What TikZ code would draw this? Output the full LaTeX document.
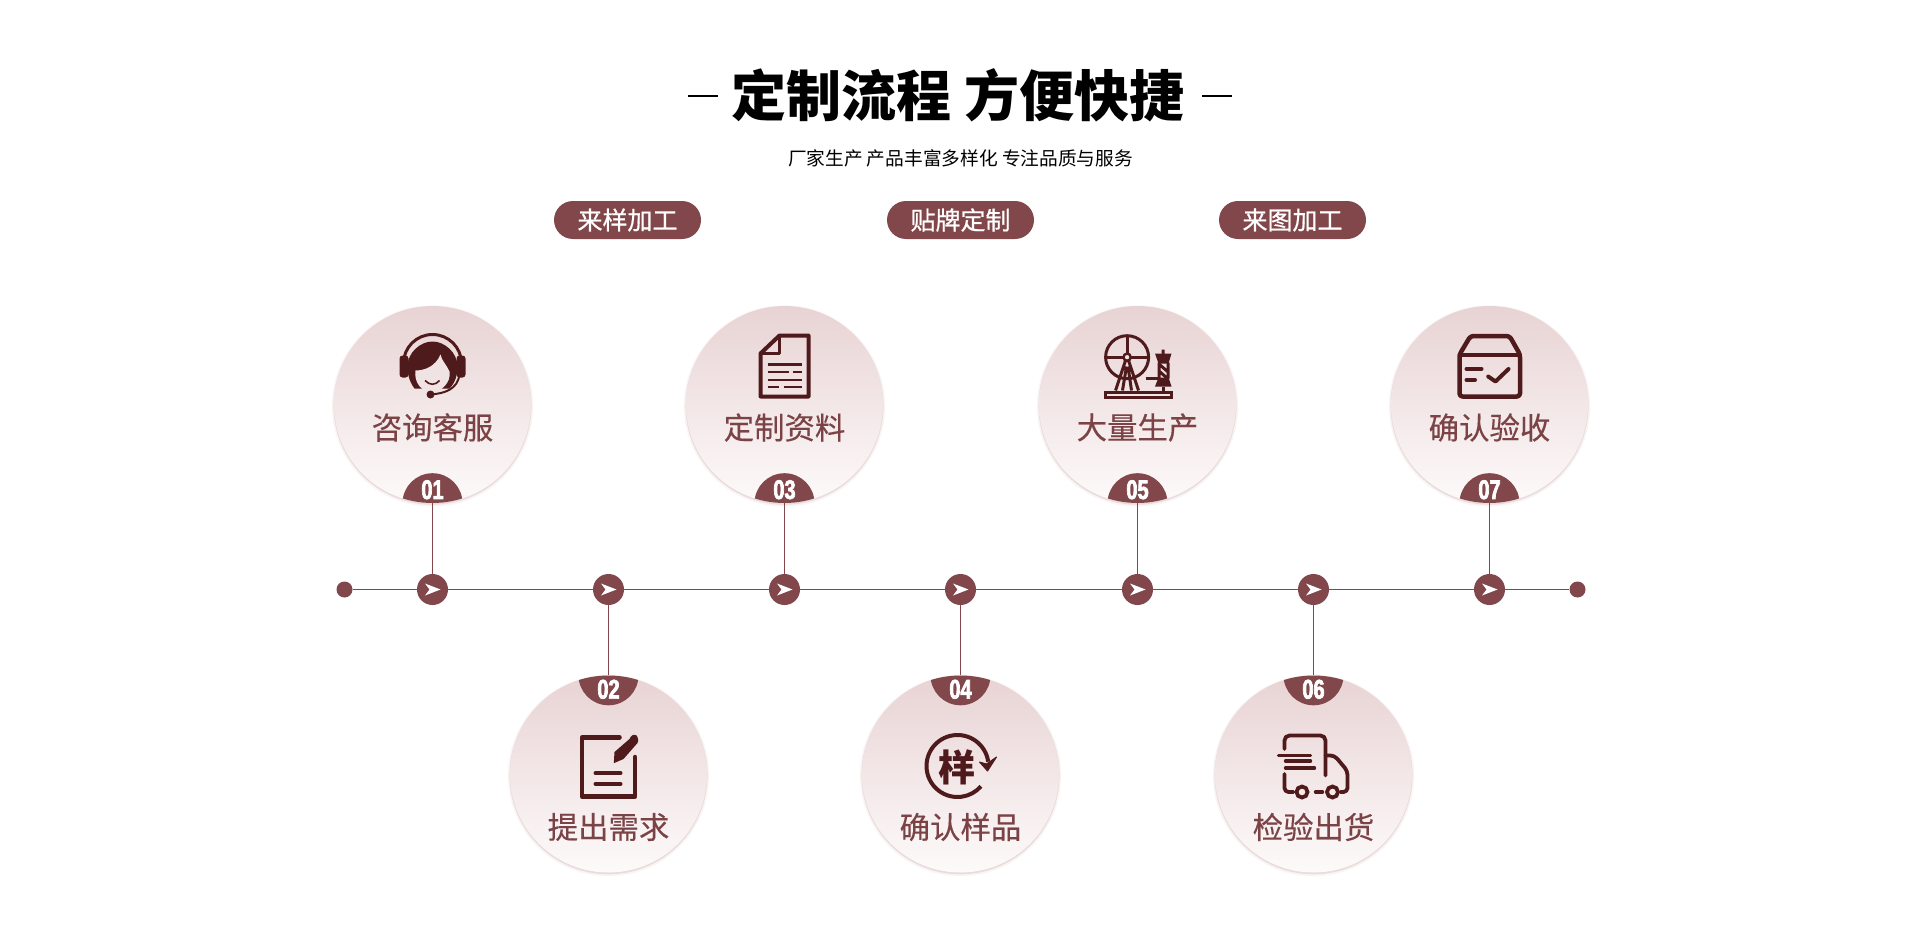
\documentclass[tikz,border=0pt]{standalone}
\usepackage{fontspec}
\setmainfont{Liberation Sans}
\newfontfamily\cjk{Noto Sans CJK SC}
\newfontfamily\cjkmed[FakeBold=0.35]{Noto Sans CJK SC}
\newfontfamily\cjkpill[FakeBold=0.7]{Noto Sans CJK SC}
\newfontfamily\numfont[FakeStretch=0.74,FakeBold=2.5]{Liberation Sans Bold}
\usetikzlibrary{positioning,shadows,calc}
\definecolor{wine}{HTML}{82474A}
\definecolor{winetext}{HTML}{7C4346}
\definecolor{inkdark}{HTML}{4E1A1C}
\definecolor{cardtop}{HTML}{E8D3D4}
\definecolor{cardend}{HTML}{FDFAFA}
\definecolor{cardmid}{HTML}{F0E3E4}
\definecolor{glow}{HTML}{B98385}
\tikzset{
  card/.style={circle, minimum size=197pt, inner sep=0pt, top color=cardtop, bottom color=cardend,
    general shadow={fill=glow, opacity=.08, shadow scale=1.022, shadow yshift=-1.5pt},
    general shadow={fill=glow, opacity=.22, shadow scale=1.006, shadow yshift=-1.2pt}},
  stop/.style={circle, minimum size=31pt, inner sep=0pt, fill=wine, path picture={
    \fill[white,shift={(path picture bounding box.center)}] (-7.5,6) -- (8,0) -- (-7.5,-6) -- (-3,0) -- cycle;}},
  enddot/.style={circle, minimum size=16pt, inner sep=0pt, fill=wine},
  pill/.style={rectangle, rounded corners=19pt, minimum width=147pt, minimum height=38pt, inner sep=0pt,
    fill=wine, text=white, font=\cjkpill\fontsize{25}{30}\selectfont},
  label/.style={text=winetext, inner sep=0pt, font=\cjkmed\fontsize{30.4}{36}\selectfont},
  num/.style={text=white, inner sep=0pt, font=\numfont\fontsize{27}{27}\selectfont},
  connect/.style={draw=wine, line width=1pt},
  ink/.style={draw=inkdark, line width=4pt, line cap=round, line join=round},
  thinink/.style={draw=inkdark, line width=3pt, line cap=butt, line join=miter},
  x=1pt, y=1pt, on grid
}
\begin{document}
\begin{tikzpicture}
    \useasboundingbox (0,0) rectangle (1920,-939);
    \fill[white] (0,0) rectangle (1920,-939);

    % heading
    \node[inner sep=0pt,font=\cjk\bfseries\fontsize{55}{60}\selectfont] (Title) at (958,-95) {定制流程 方便快捷};
    \node[inner sep=0pt,font=\cjk\fontsize{18.7}{22}\selectfont] (Sub) at (960.5,-158) {厂家生产 产品丰富多样化 专注品质与服务};
    \coordinate (DashA) at (688,-96);
    \coordinate (DashB) at (718,-96);
    \coordinate (DashC) at (1202,-96);
    \coordinate (DashD) at (1232,-96);
    \draw[black,line width=2.4pt] (DashA) -- (DashB) (DashC) -- (DashD);

    \node[pill] (P2) at (960.5,-220) {贴牌定制};
    \node[pill] (P1) [left=333pt of P2] {来样加工};
    \node[pill] (P3) [right=332pt of P2] {来图加工};

    % timeline
    \node[stop] (S1) at (432.5,-589.5) {};
    \node[stop] (S2) [right=176pt of S1] {};
    \node[stop] (S3) [right=176pt of S2] {};
    \node[stop] (S4) [right=176pt of S3] {};
    \node[stop] (S5) [right=177pt of S4] {};
    \node[stop] (S6) [right=176pt of S5] {};
    \node[stop] (S7) [right=176pt of S6] {};
    \node[enddot] (E1) [left=88pt of S1] {};
    \node[enddot] (E2) [right=88pt of S7] {};

    \node[card] (C1) [above=185pt of S1] {};
    \node[card] (C2) [below=184.5pt of S2] {};
    \node[card] (C3) [above=185pt of S3] {};
    \node[card] (C4) [below=184.5pt of S4] {};
    \node[card] (C5) [above=185pt of S5] {};
    \node[card] (C6) [below=184.5pt of S6] {};
    \node[card] (C7) [above=185pt of S7] {};

    \path (E1) edge [connect] (S1)
          (S1) edge [connect] (S2)
          (S2) edge [connect] (S3)
          (S3) edge [connect] (S4)
          (S4) edge [connect] (S5)
          (S5) edge [connect] (S6)
          (S6) edge [connect] (S7)
          (S7) edge [connect] (E2);
    \path (C1) edge [connect] (S1)
          (C2) edge [connect] (S2)
          (C3) edge [connect] (S3)
          (C4) edge [connect] (S4)
          (C5) edge [connect] (S5)
          (C6) edge [connect] (S6)
          (C7) edge [connect] (S7);

    % number caps
    \foreach \c/\a in {C1/south,C2/north,C3/south,C4/north,C5/south,C6/north,C7/south}{
      \begin{scope}
        \clip (\c) circle (98.5);
        \fill[wine] (\c.\a) circle (30);
      \end{scope}
    }
    \node[num] (N1) [above=13.5pt of C1.south,anchor=center] {01};
    \node[num] (N2) [below=14pt of C2.north,anchor=center] {02};
    \node[num] (N3) [above=13.5pt of C3.south,anchor=center] {03};
    \node[num] (N4) [below=14pt of C4.north,anchor=center] {04};
    \node[num] (N5) [above=13.5pt of C5.south,anchor=center] {05};
    \node[num] (N6) [below=14pt of C6.north,anchor=center] {06};
    \node[num] (N7) [above=13.5pt of C7.south,anchor=center] {07};

    \node[label] (L1) [below=23pt of C1.center,anchor=center] {咨询客服};
    \node[label] (L2) [below=53pt of C2.center,anchor=center] {提出需求};
    \node[label] (L3) [below=23pt of C3.center,anchor=center] {定制资料};
    \node[label] (L4) [below=53pt of C4.center,anchor=center] {确认样品};
    \node[label] (L5) [below=23pt of C5.center,anchor=center] {大量生产};
    \node[label] (L6) [below=53pt of C6.center,anchor=center] {检验出货};
    \node[label] (L7) [below=23pt of C7.center,anchor=center] {确认验收};

    % headset
    \begin{scope}[shift={(C1.center)}]
      \draw[inkdark,line width=3pt] (-29,41) arc[start angle=180,end angle=0,radius=29];
      \fill[inkdark] (-18,16) .. controls (-24,24) and (-25,32) .. (-25,38)
        .. controls (-25,52) and (-12,63) .. (0,63) .. controls (12,63) and (25,52) .. (25,38)
        .. controls (25,30) and (23,22) .. (17,16) -- cycle;
      \fill[cardmid] (-17,34) .. controls (-8,34) and (3,38) .. (8,50) .. controls (9,44) and (14,40) .. (17,33)
        .. controls (19,22) and (8,12) .. (-1,12) .. controls (-10,12) and (-19,22) .. (-17,34);
      \fill[inkdark,rounded corners=3pt] (-33,27) rectangle (-24,49);
      \fill[inkdark,rounded corners=3pt] (24,27) rectangle (33,49);
      \draw[inkdark,line width=1.6pt] (-7.5,24) .. controls (-3,19) and (3,19) .. (7,24);
      \draw[inkdark,line width=2pt] (27,30) .. controls (25,15) and (12,11) .. (-2,10);
      \fill[inkdark] (-2,10) circle (4);
    \end{scope}

    % note and pencil
    \begin{scope}[shift={(C2.center)}]
      \draw[ink,line width=4.5pt] (11,36.5) -- (-26.5,36.5) -- (-26.5,-22.5) -- (26.5,-22.5) -- (26.5,17);
      \draw[ink] (-13,0.8) -- (12,0.8) (-13,-9.8) -- (12,-9.8);
      \fill[inkdark] (5.3,10.8) -- (6,22) -- (21,35) -- (22,37) .. controls (24,40) and (28,40) .. (29,37)
        .. controls (30,34) and (30,33) .. (29,31) -- (15,15) -- cycle;
    \end{scope}

    % document
    \begin{scope}[shift={(C3.center)}]
      \draw[ink] (-5,69) -- (24,69) -- (24,8) -- (-24,8) -- (-24,51) -- cycle;
      \draw[ink,line width=3pt] (-5,69) -- (-5,51) -- (-24,51);
      \draw[inkdark,line width=2.4pt] (-17,40) -- (17,40) (-17,32.3) -- (4,32.3) (8,32.3) -- (17,32.3)
        (-17,24.7) -- (17,24.7) (-17,17.3) -- (-6,17.3) (-1,17.3) -- (17,17.3);
    \end{scope}

    % sample arrow
    \begin{scope}[shift={(C4.center)}]
      \draw[ink,line cap=butt] (-3,8) ++(8:31) arc[start angle=8,end angle=319,radius=31] ;
      \fill[inkdark,line join=round,draw=inkdark,line width=1pt] (19,12) -- (26,10) -- (36,17) -- (27,3) -- cycle;
      \node[inner sep=0pt,text=inkdark,font=\cjk\bfseries\fontsize{37}{40}\selectfont] (Mark) at (-4,7) {样};
    \end{scope}

    % wheel and tower
    \begin{scope}[shift={(C5.center)}]
      \draw[thinink] (-10.4,47.3) circle (21.5);
      \draw[thinink] (-32,47.3) -- (-14,47.3) (-6.8,47.3) -- (11,47.3) (-10.4,69) -- (-10.4,51);
      \fill[cardmid,draw=inkdark,line width=2.4pt] (-10.4,47.3) circle (3.6);
      \draw[thinink] (-12,44) -- (-22,14) (-9,44) -- (1,14) (-11,38) -- (-15,14) (-9.5,38) -- (-6,14);
      \draw[thinink] (-32,12.5) rectangle (33.5,7.5);
      \draw[thinink] (8,25.7) -- (21,25.7);
      \fill[inkdark] (17.5,51) -- (34,51) -- (31,41) -- (21,41) -- cycle;
      \draw[thinink] (21.5,42) -- (21.5,26) (30.5,42) -- (30.5,26)
        (22,40) -- (30,33) (22,33) -- (30,26) (25.7,55) -- (25.7,50);
      \fill[inkdark] (17.5,18) -- (34,18) -- (31,27) -- (21,27) -- cycle;
      \draw[thinink] (25.7,18) -- (25.7,12);
    \end{scope}

    % truck
    \begin{scope}[shift={(C6.center)}]
      \draw[ink,line width=3.8pt,rounded corners=5pt] (-29,25) -- (-29,38.5) -- (12,38.5) -- (12,-1.5);
      \draw[ink,line width=3.8pt,rounded corners=4pt] (12,18.5) -- (21,18.5) -- (34,3) -- (34,-18) -- (27,-18);
      \draw[ink,line width=3.8pt,rounded corners=4pt] (-29,0) -- (-29,-18) -- (-20,-18);
      \draw[ink,line width=3.4pt] (-35,18.5) -- (-3,18.5) (-28,13) -- (-3,13) (-28,6) -- (1,6) (2,-18) -- (9,-18);
      \draw[inkdark,line width=3.8pt] (-11.5,-18) circle (5.5) (19,-18) circle (5.5);
    \end{scope}

    % parcel with check
    \begin{scope}[shift={(C7.center)}]
      \draw[ink,line width=4.5pt,rounded corners=3pt] (-19,68.5) -- (20,68.5) -- (30.5,50) -- (30.5,8) -- (-30,8) -- (-30,50) -- cycle;
      \draw[ink,line width=4pt] (-30,50) -- (30.5,50);
      \draw[ink] (-23,35.7) -- (-8,35.7) (-23,24.7) -- (-14.5,24.7);
      \draw[ink] (-1.3,28) -- (6,23) -- (19,35.5);
    \end{scope}
\end{tikzpicture}
\end{document}
